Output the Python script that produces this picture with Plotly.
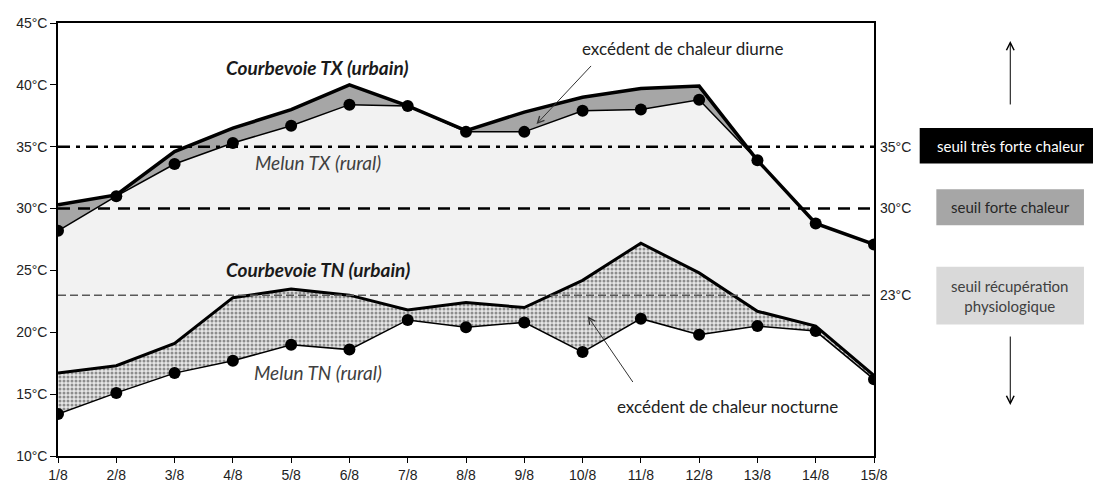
import plotly.graph_objects as go

days = ['1/8', '2/8', '3/8', '4/8', '5/8', '6/8', '7/8', '8/8',
        '9/8', '10/8', '11/8', '12/8', '13/8', '14/8', '15/8']

# Températures maximales (TX)
courbevoie_tx = [30.3, 31.1, 34.6, 36.5, 38.0, 40.0, 38.3, 36.3,
                 37.8, 39.0, 39.7, 39.9, 33.9, 28.8, 27.1]
melun_tx = [28.2, 31.0, 33.6, 35.3, 36.7, 38.4, 38.3, 36.2,
            36.2, 37.9, 38.0, 38.8, 33.9, 28.8, 27.1]

# Températures minimales (TN)
courbevoie_tn = [16.7, 17.3, 19.1, 22.8, 23.5, 23.0, 21.8, 22.4,
                 22.0, 24.2, 27.2, 24.8, 21.7, 20.5, 16.5]
melun_tn = [13.4, 15.1, 16.7, 17.7, 19.0, 18.6, 21.0, 20.4,
            20.8, 18.4, 21.1, 19.8, 20.5, 20.1, 16.2]

thresholds = [35, 30, 23]
threshold_labels = ['35°C', '30°C', '23°C']

x = list(range(len(days)))
TICK_FONT = dict(family='Liberation Sans', size=14, color='#222')
TXT = 'Lato'

fig = go.Figure()

# TN: rural en dessous, urbain au-dessus avec zone pointillée
fig.add_trace(go.Scatter(x=x, y=melun_tn, mode='lines+markers',
                         line=dict(color='black', width=1.5),
                         marker=dict(color='black', size=12)))
fig.add_trace(go.Scatter(x=x, y=courbevoie_tn, mode='lines', fill='tonexty',
                         fillpattern=dict(shape='.', fgcolor='#333', bgcolor='#e6e6e6',
                                          size=4, solidity=0.45),
                         line=dict(color='black', width=3)))
# TX: fond gris clair entre TN urbain et TX rural, gris foncé pour l'excédent
fig.add_trace(go.Scatter(x=x, y=melun_tx, mode='lines+markers', fill='tonexty',
                         fillcolor='#f2f2f2',
                         line=dict(color='black', width=1.5),
                         marker=dict(color='black', size=12)))
fig.add_trace(go.Scatter(x=x, y=courbevoie_tx, mode='lines', fill='tonexty',
                         fillcolor='#a6a6a6',
                         line=dict(color='black', width=3.5)))

# seuils
styles = [dict(color='black', width=2.5, dash='12px,6px,4px,6px'),
          dict(color='black', width=2.5, dash='12px,8px'),
          dict(color='#595959', width=1.5, dash='8px,4px')]
for t, st in zip(thresholds, styles):
    fig.add_shape(type='line', xref='x', yref='y', x0=0, x1=14, y0=t, y1=t,
                  line=st, layer='above')

# axe secondaire pour les étiquettes de seuils
fig.add_trace(go.Scatter(x=[0], y=[thresholds[0]], yaxis='y2', mode='markers',
                         marker=dict(opacity=0), hoverinfo='skip'))

ann = []
def label(text, xx, yy, bold=False, color='#1a1a1a', size=19):
    t = f'<i>{text}</i>'
    if bold:
        t = f'<b>{t}</b>'
    ann.append(dict(text=t, x=xx, y=yy, xref='x', yref='y', showarrow=False,
                    xanchor='center', yanchor='middle',
                    font=dict(family=TXT, size=size, color=color)))

label('Courbevoie TX (urbain)', 4.46, 41.4, bold=True)
label('Melun TX (rural)', 4.46, 33.7, color='#404040')
label('Courbevoie TN (urbain)', 4.46, 25.05, bold=True)
label('Melun TN (rural)', 4.46, 16.75, color='#404040')

ann.append(dict(text='excédent de chaleur diurne', x=10.72, y=42.9, xref='x', yref='y',
                showarrow=False, font=dict(family=TXT, size=17, color='#222')))
ann.append(dict(text='', x=8.21, y=36.83, ax=9.17, ay=41.65, xref='x', yref='y',
                axref='x', ayref='y', showarrow=True, arrowhead=5, arrowsize=1.3,
                arrowwidth=1, arrowcolor='#333'))
ann.append(dict(text='excédent de chaleur nocturne', x=11.48, y=14.03, xref='x', yref='y',
                showarrow=False, font=dict(family=TXT, size=17, color='#222')))
ann.append(dict(text='', x=9.09, y=21.29, ax=9.88, ay=15.86, xref='x', yref='y',
                axref='x', ayref='y', showarrow=True, arrowhead=5, arrowsize=1.3,
                arrowwidth=1, arrowcolor='#333'))

# légende des seuils à droite
boxes = [
    ('seuil très forte chaleur', 1.0560, 1.2777, 0.6755, 0.7577, 'black', 'white'),
    ('seuil forte chaleur', 1.0764, 1.2573, 0.5331, 0.6162, '#a6a6a6', '#262626'),
    ('seuil récupération<br>physiologique', 1.0764, 1.2573, 0.3039, 0.4369, '#d9d9d9', '#404040'),
]
for text, x0, x1, y0, y1, bg, fg in boxes:
    fig.add_shape(type='rect', xref='paper', yref='paper', x0=x0, x1=x1, y0=y0, y1=y1,
                  fillcolor=bg, line=dict(width=0))
    ann.append(dict(text=text, x=(x0 + x1) / 2, y=(y0 + y1) / 2, xref='paper', yref='paper',
                    xanchor='center', yanchor='middle', showarrow=False,
                    font=dict(family=TXT, size=15, color=fg)))

ann.append(dict(text='', x=1.167, y=0.9585, ax=0, ay=65, xref='paper', yref='paper',
                showarrow=True, arrowhead=5, arrowsize=1.5,
                arrowwidth=1, arrowcolor='black'))
ann.append(dict(text='', x=1.167, y=0.1177, ax=0, ay=-70, xref='paper', yref='paper',
                showarrow=True, arrowhead=5, arrowsize=1.5,
                arrowwidth=1, arrowcolor='black'))

fig.update_layout(
    width=1093, height=474,
    margin=dict(l=50, r=227, t=15, b=26),
    paper_bgcolor='white', plot_bgcolor='white',
    showlegend=False,
    annotations=ann,
    xaxis=dict(range=[0, 14], tickvals=x, ticktext=days, ticks='outside', ticklen=5,
               tickcolor='black', showline=True, linecolor='black', linewidth=1.5,
               mirror=True, showgrid=False, zeroline=False, tickfont=TICK_FONT,
               automargin=False),
    yaxis=dict(range=[10, 45], dtick=5, ticksuffix='°C', ticks='outside', ticklen=6,
               tickcolor='black', showline=True, linecolor='black', linewidth=1.5,
               mirror=True, showgrid=False, zeroline=False, tickfont=TICK_FONT,
               automargin=False),
    yaxis2=dict(range=[10, 45], overlaying='y', side='right', tickvals=thresholds,
                ticktext=threshold_labels, ticks='', showline=False, showgrid=False,
                zeroline=False, tickfont=TICK_FONT, ticklabelstandoff=5,
                automargin=False),
)

fig.write_html('out.html')
